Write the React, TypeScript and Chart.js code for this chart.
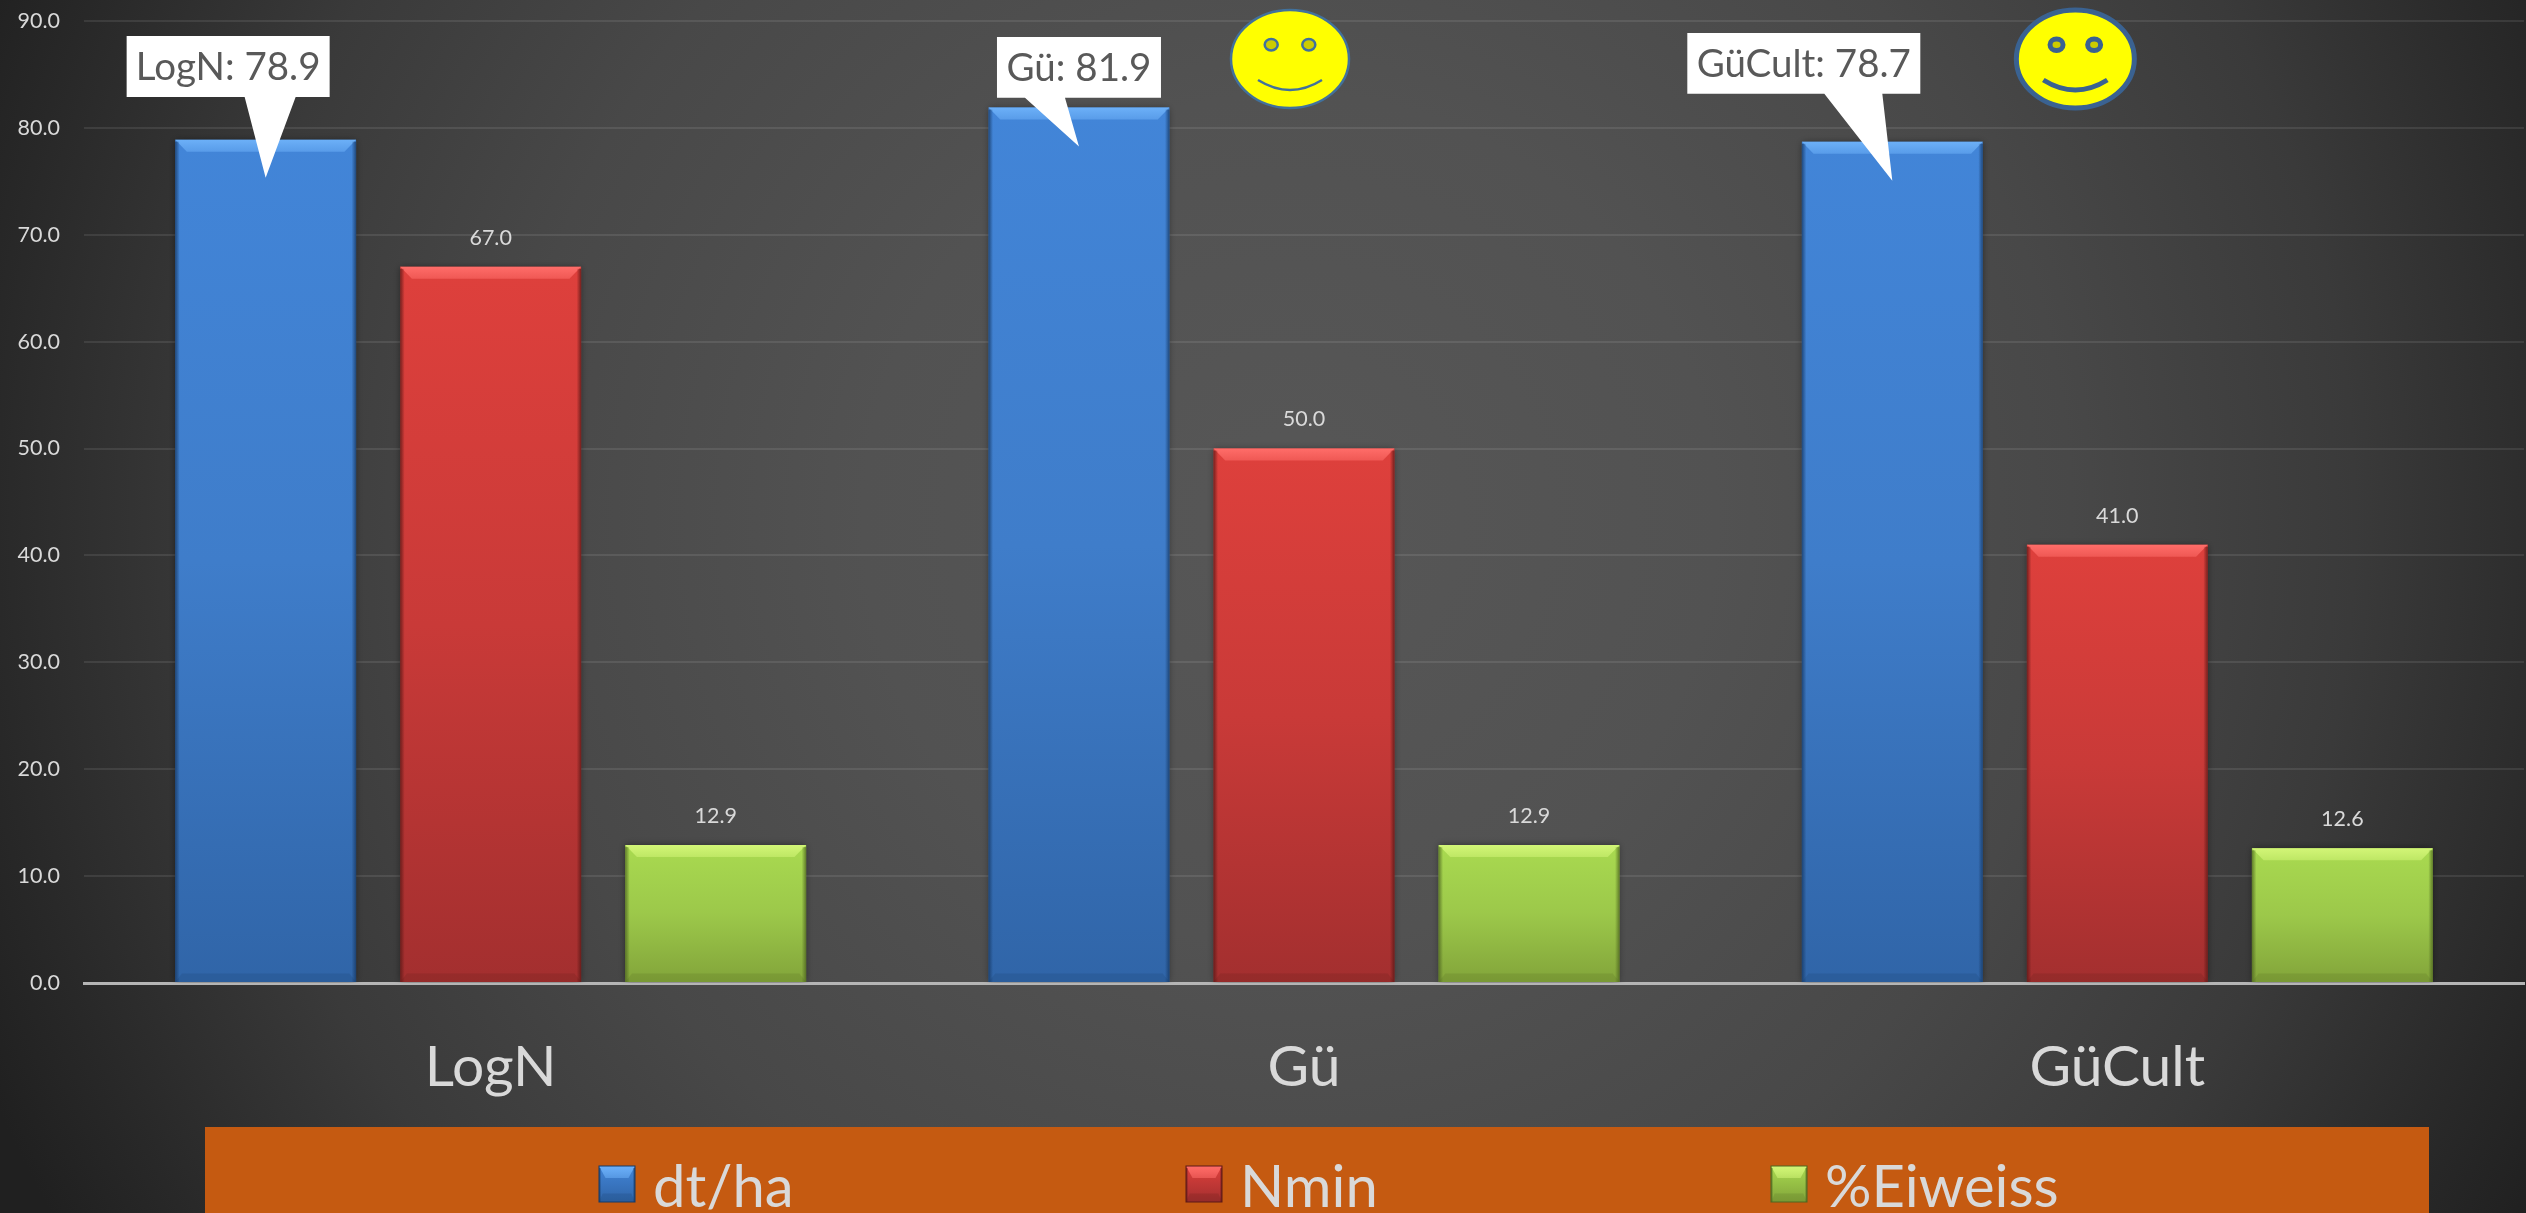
import React, { useEffect, useRef } from "react";
import { Chart, registerables } from "chart.js";

Chart.register(...registerables);

const categories = ["LogN", "Gü", "GüCult"];
const seriesNames = ["dt/ha", "Nmin", "%Eiweiss"];
const dtHa = [78.9, 81.9, 78.7];
const nmin = [67.0, 50.0, 41.0];
const eiweiss = [12.9, 12.9, 12.6];
const yTicksMax = 90;
const yTicksStep = 10;

const FONT = "Lato, sans-serif";
const TEXT = "#d9d9d9";
const W = 2526;
const H = 1213;

const palette = [
  { top: "#4285d8", mid: "#3f7dca", bottom: "#3065a8", light: "#6cb0f8", dark: "#173a66" },
  { top: "#de403c", mid: "#c93a38", bottom: "#a32f2f", light: "#ff6d69", dark: "#5c1816" },
  { top: "#a9da50", mid: "#9cc84a", bottom: "#82a43a", light: "#d2f577", dark: "#4e6620" },
];

// callout box left/right/top/bottom, pointer base left/right, tip depth below the bar top
const callouts = [
  { l: -139, r: 64, t: 36, b: 97, pl: -21, pr: 30, tip: 38 },
  { l: -82, r: 82, t: 37, b: 97.7, pl: -54, pr: -14, tip: 39 },
  { l: -205, r: 28, t: 33, b: 93.7, pl: -68, pr: -10, tip: 39 },
];

const smileys = [
  { cat: 1, dx: -14, weight: 2.5, rx: 59, ry: 49 },
  { cat: 2, dx: -42, weight: 5, rx: 59, ry: 49 },
];

function bevel(ctx: CanvasRenderingContext2D, x0: number, x1: number, top: number, bottom: number, c: any, bt: number, bs: number) {
  ctx.save();
  const g = ctx.createLinearGradient(0, top, 0, top + bt);
  g.addColorStop(0, c.light);
  g.addColorStop(1, c.light + "88");
  ctx.fillStyle = g;
  ctx.beginPath();
  ctx.moveTo(x0, top);
  ctx.lineTo(x1, top);
  ctx.lineTo(x1 - bs * 2.6, top + bt);
  ctx.lineTo(x0 + bs * 2.6, top + bt);
  ctx.closePath();
  ctx.fill();

  const lg = ctx.createLinearGradient(x0, 0, x0 + bs, 0);
  lg.addColorStop(0, c.dark + "cc");
  lg.addColorStop(1, c.dark + "00");
  ctx.fillStyle = lg;
  ctx.fillRect(x0, top + 2, bs, bottom - top - 2);
  const rg = ctx.createLinearGradient(x1, 0, x1 - bs, 0);
  rg.addColorStop(0, c.dark + "cc");
  rg.addColorStop(1, c.dark + "00");
  ctx.fillStyle = rg;
  ctx.fillRect(x1 - bs, top + 2, bs, bottom - top - 2);

  ctx.fillStyle = c.dark + "30";
  ctx.beginPath();
  ctx.moveTo(x0, bottom);
  ctx.lineTo(x1, bottom);
  ctx.lineTo(x1 - bs * 1.5, bottom - bt * 0.7);
  ctx.lineTo(x0 + bs * 1.5, bottom - bt * 0.7);
  ctx.closePath();
  ctx.fill();
  ctx.restore();
}

const backdrop = {
  id: "backdrop",
  beforeDraw(chart: any) {
    const { ctx } = chart;
    const g = ctx.createRadialGradient(1290, 520, 0, 1290, 520, 1420);
    g.addColorStop(0, "#575757");
    g.addColorStop(0.3, "#525252");
    g.addColorStop(0.55, "#484848");
    g.addColorStop(0.75, "#3a3a3a");
    g.addColorStop(0.92, "#282828");
    g.addColorStop(1, "#202020");
    ctx.fillStyle = g;
    ctx.fillRect(0, 0, W, H);
    ctx.fillStyle = "#c55a11";
    ctx.fillRect(205, 1127, 2224, 86);
  },
};

const barShadow = {
  id: "barShadow",
  beforeDatasetsDraw(chart: any) {
    const { ctx } = chart;
    ctx.save();
    ctx.shadowColor = "rgba(0,0,0,0.45)";
    ctx.shadowBlur = 7;
  },
  afterDatasetsDraw(chart: any) {
    chart.ctx.restore();
  },
};

const decorations = {
  id: "decorations",
  afterDatasetsDraw(chart: any) {
    const { ctx } = chart;
    // bevels + value labels
    chart.data.datasets.forEach((ds: any, si: number) => {
      const meta = chart.getDatasetMeta(si);
      meta.data.forEach((bar: any, i: number) => {
        const x0 = bar.x - bar.width / 2;
        const x1 = bar.x + bar.width / 2;
        bevel(ctx, x0, x1, bar.y, bar.base, palette[si], 12, 4.5);
        if (si > 0) {
          ctx.save();
          ctx.fillStyle = TEXT;
          ctx.font = `21.5px ${FONT}`;
          ctx.textAlign = "center";
          ctx.textBaseline = "middle";
          ctx.fillText(ds.data[i].toFixed(1), bar.x, bar.y - 29);
          ctx.restore();
        }
      });
    });

    // callouts on the first series
    const first = chart.getDatasetMeta(0);
    first.data.forEach((bar: any, i: number) => {
      const c = callouts[i];
      ctx.save();
      ctx.fillStyle = "#ffffff";
      ctx.beginPath();
      ctx.moveTo(bar.x + c.l, c.t);
      ctx.lineTo(bar.x + c.r, c.t);
      ctx.lineTo(bar.x + c.r, c.b);
      ctx.lineTo(bar.x + c.pr, c.b);
      ctx.lineTo(bar.x, bar.y + c.tip);
      ctx.lineTo(bar.x + c.pl, c.b);
      ctx.lineTo(bar.x + c.l, c.b);
      ctx.closePath();
      ctx.fill();
      ctx.fillStyle = "#595959";
      ctx.font = `38.5px ${FONT}`;
      ctx.textAlign = "center";
      ctx.textBaseline = "middle";
      ctx.fillText(`${categories[i]}: ${chart.data.datasets[0].data[i].toFixed(1)}`, bar.x + (c.l + c.r) / 2, (c.t + c.b) / 2 + 1);
      ctx.restore();
    });

    // smileys above the red bars
    smileys.forEach((s) => {
      const cx = chart.scales.x.getPixelForValue(s.cat) + s.dx;
      const cy = 59;
      ctx.save();
      ctx.strokeStyle = s.weight > 3 ? "#3a6291" : "#41719c";
      ctx.lineWidth = s.weight;
      ctx.fillStyle = "#ffff00";
      ctx.beginPath();
      ctx.ellipse(cx, cy, s.rx, s.ry, 0, 0, Math.PI * 2);
      ctx.fill();
      ctx.stroke();
      ctx.fillStyle = "#cccc00";
      [-18.8, 18.8].forEach((dx) => {
        ctx.beginPath();
        ctx.ellipse(cx + dx, 44.7, 6.5, 5.8, 0, 0, Math.PI * 2);
        ctx.fill();
        ctx.stroke();
      });
      ctx.lineCap = "butt";
      ctx.beginPath();
      ctx.moveTo(cx - 32, 80);
      ctx.quadraticCurveTo(cx, 100, cx + 32, 80);
      ctx.stroke();
      ctx.restore();
    });

    // legend
    const swatches = [599, 1186, 1771];
    seriesNames.forEach((name, i) => {
      const x = swatches[i];
      const c = palette[i];
      ctx.save();
      const g = ctx.createLinearGradient(0, 1166, 0, 1202);
      g.addColorStop(0, c.top);
      g.addColorStop(1, c.bottom);
      ctx.fillStyle = g;
      ctx.fillRect(x, 1166, 36, 36);
      bevel(ctx, x, x + 36, 1166, 1202, c, 12, 2.5);
      ctx.strokeStyle = c.dark;
      ctx.lineWidth = 1;
      ctx.strokeRect(x, 1166, 36, 36);
      ctx.fillStyle = TEXT;
      ctx.font = `58px ${FONT}`;
      ctx.textAlign = "left";
      ctx.textBaseline = "alphabetic";
      ctx.fillText(name, x + 54, 1207);
      ctx.restore();
    });
  },
};

const makeFill = (si: number) => (context: any) => {
  const { chart, parsed } = context;
  const scale = chart.scales.y;
  if (!chart.chartArea || !parsed || !scale) return palette[si].top;
  const top = scale.getPixelForValue(parsed.y);
  const base = scale.getPixelForValue(0);
  const g = chart.ctx.createLinearGradient(0, top, 0, base);
  g.addColorStop(0, palette[si].top);
  g.addColorStop(0.5, palette[si].mid);
  g.addColorStop(1, palette[si].bottom);
  return g;
};

export default function App() {
  const ref = useRef<HTMLCanvasElement>(null);
  useEffect(() => {
    if (!ref.current) return;
    const chart = new Chart(ref.current, {
      type: "bar",
      data: {
        labels: categories,
        datasets: [dtHa, nmin, eiweiss].map((data, si) => ({
          label: seriesNames[si],
          data,
          backgroundColor: makeFill(si),
          borderWidth: 0,
          categoryPercentage: 0.83,
          barPercentage: 0.804,
        })),
      },
      options: {
        responsive: false,
        animation: false,
        devicePixelRatio: 1,
        layout: { padding: { top: 21, right: 2, left: 0, bottom: 0 } },
        plugins: { legend: { display: false }, tooltip: { enabled: false }, title: { display: false } },
        scales: {
          x: {
            z: 2,
            grid: { display: false, drawTicks: false },
            border: { display: true, color: "#b5b5b5", width: 3 },
            ticks: { color: TEXT, font: { family: FONT, size: 57 }, padding: 50, maxRotation: 0 },
            afterFit: (s: any) => { s.height = 230; s.paddingLeft = 0; s.paddingRight = 0; },
          },
          y: {
            min: 0,
            max: yTicksMax,
            grid: { color: "rgba(255,255,255,0.09)", lineWidth: 2, drawTicks: false },
            border: { display: false },
            ticks: {
              stepSize: yTicksStep,
              color: TEXT,
              font: { family: FONT, size: 21.5 },
              padding: 24,
              callback: (v: any) => Number(v).toFixed(1),
            },
            afterFit: (s: any) => { s.width = 84; s.paddingTop = 0; s.paddingBottom = 0; },
          },
        },
      },
      plugins: [backdrop, barShadow, decorations],
    } as any);
    return () => chart.destroy();
  }, []);
  return (
    <div style={{ position: "absolute", left: 0, top: 0, width: W, height: H, overflow: "hidden" }}>
      <canvas ref={ref} width={W} height={H} style={{ display: "block" }} />
    </div>
  );
}
